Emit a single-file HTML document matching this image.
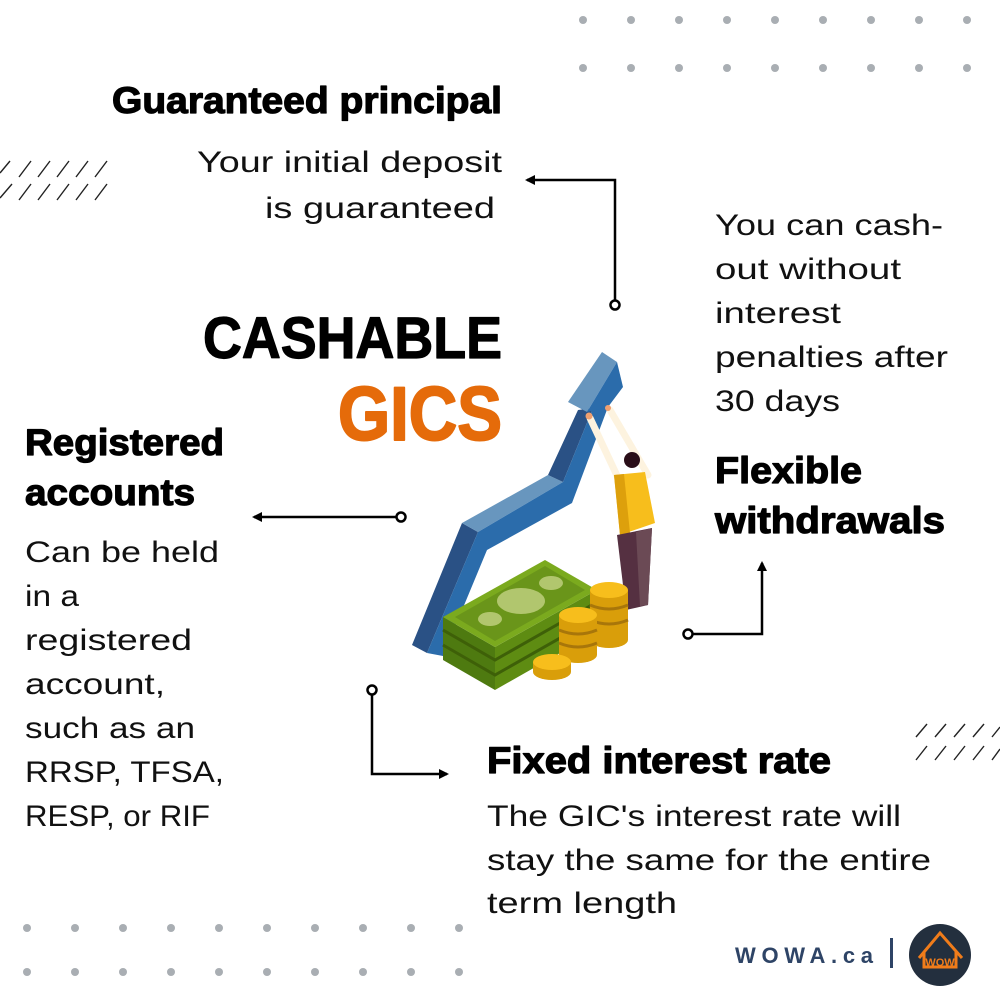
<!DOCTYPE html>
<html><head><meta charset="utf-8"><style>
html,body{margin:0;padding:0;background:#fff}
svg{display:block}
.h{font-family:"Liberation Sans",sans-serif;font-weight:bold;fill:#000;stroke:#000;stroke-width:1.2;stroke-linejoin:round}
.b{font-family:"Liberation Sans",sans-serif;font-size:30px;fill:#111}
</style></head><body>
<svg width="1000" height="1000" viewBox="0 0 1000 1000" xmlns="http://www.w3.org/2000/svg">
<defs>
<marker id="ar" markerWidth="10" markerHeight="10" refX="8" refY="5" orient="auto" markerUnits="userSpaceOnUse"><path d="M0,0 L10,5 L0,10 Z" fill="#000"/></marker>
</defs>
<rect width="1000" height="1000" fill="#fff"/>
<g fill="#A9AEB3">
<circle cx="583" cy="20" r="4"/><circle cx="631" cy="20" r="4"/><circle cx="679" cy="20" r="4"/><circle cx="727" cy="20" r="4"/><circle cx="775" cy="20" r="4"/><circle cx="823" cy="20" r="4"/><circle cx="871" cy="20" r="4"/><circle cx="919" cy="20" r="4"/><circle cx="967" cy="20" r="4"/>
<circle cx="583" cy="68" r="4"/><circle cx="631" cy="68" r="4"/><circle cx="679" cy="68" r="4"/><circle cx="727" cy="68" r="4"/><circle cx="775" cy="68" r="4"/><circle cx="823" cy="68" r="4"/><circle cx="871" cy="68" r="4"/><circle cx="919" cy="68" r="4"/><circle cx="967" cy="68" r="4"/>
<circle cx="27" cy="928" r="4"/><circle cx="75" cy="928" r="4"/><circle cx="123" cy="928" r="4"/><circle cx="171" cy="928" r="4"/><circle cx="219" cy="928" r="4"/><circle cx="267" cy="928" r="4"/><circle cx="315" cy="928" r="4"/><circle cx="363" cy="928" r="4"/><circle cx="411" cy="928" r="4"/><circle cx="459" cy="928" r="4"/>
<circle cx="27" cy="972" r="4"/><circle cx="75" cy="972" r="4"/><circle cx="123" cy="972" r="4"/><circle cx="171" cy="972" r="4"/><circle cx="219" cy="972" r="4"/><circle cx="267" cy="972" r="4"/><circle cx="315" cy="972" r="4"/><circle cx="363" cy="972" r="4"/><circle cx="411" cy="972" r="4"/><circle cx="459" cy="972" r="4"/>
</g>
<g stroke="#222" stroke-width="1.4">
<path d="M0,173 L10,161 M19,177 L31,161 M38,177 L50,161 M57,177 L69,161 M76,177 L88,161 M95,177 L107,161"/>
<path d="M0,198 L12,184 M19,200 L31,184 M38,200 L50,184 M57,200 L69,184 M76,200 L88,184 M95,200 L107,184"/>
<path d="M916,737 L927,724 M935,737 L946,724 M954,737 L965,724 M973,737 L984,724 M992,737 L1000,727"/>
<path d="M916,760 L927,746 M935,760 L946,746 M954,760 L965,746 M973,760 L984,746 M992,760 L1000,749"/>
</g>
<text class="h" x="112" y="113" font-size="37" textLength="390" lengthAdjust="spacingAndGlyphs">Guaranteed principal</text>
<text class="b" x="502" y="172" text-anchor="end" textLength="305" lengthAdjust="spacingAndGlyphs">Your initial deposit</text>
<text class="b" x="495" y="218" text-anchor="end" textLength="230" lengthAdjust="spacingAndGlyphs">is guaranteed</text>
<text class="b" x="715" y="235" textLength="228" lengthAdjust="spacingAndGlyphs">You can cash-</text>
<text class="b" x="715" y="279" textLength="186" lengthAdjust="spacingAndGlyphs">out without</text>
<text class="b" x="715" y="323" textLength="126" lengthAdjust="spacingAndGlyphs">interest</text>
<text class="b" x="715" y="367" textLength="233" lengthAdjust="spacingAndGlyphs">penalties after</text>
<text class="b" x="715" y="411" textLength="125" lengthAdjust="spacingAndGlyphs">30 days</text>
<text class="h" x="715" y="483" font-size="37" textLength="147" lengthAdjust="spacingAndGlyphs">Flexible</text>
<text class="h" x="715" y="533" font-size="37" textLength="230" lengthAdjust="spacingAndGlyphs">withdrawals</text>
<text class="h" x="203" y="358" font-size="58" textLength="299" lengthAdjust="spacingAndGlyphs" stroke-width="2">CASHABLE</text>
<text class="h" x="338" y="440" font-size="76" style="fill:#E56B0A;stroke:#E56B0A;stroke-width:2" textLength="164" lengthAdjust="spacingAndGlyphs">GICS</text>
<text class="h" x="25" y="455" font-size="37" textLength="199" lengthAdjust="spacingAndGlyphs">Registered</text>
<text class="h" x="25" y="505" font-size="37" textLength="170" lengthAdjust="spacingAndGlyphs">accounts</text>
<text class="b" x="25" y="562" textLength="194" lengthAdjust="spacingAndGlyphs">Can be held</text>
<text class="b" x="25" y="606" textLength="54" lengthAdjust="spacingAndGlyphs">in a</text>
<text class="b" x="25" y="650" textLength="167" lengthAdjust="spacingAndGlyphs">registered</text>
<text class="b" x="25" y="694" textLength="140" lengthAdjust="spacingAndGlyphs">account,</text>
<text class="b" x="25" y="738" textLength="170" lengthAdjust="spacingAndGlyphs">such as an</text>
<text class="b" x="25" y="782" textLength="199" lengthAdjust="spacingAndGlyphs">RRSP, TFSA,</text>
<text class="b" x="25" y="826" textLength="185" lengthAdjust="spacingAndGlyphs">RESP, or RIF</text>
<text class="h" x="487" y="773" font-size="37" textLength="344" lengthAdjust="spacingAndGlyphs">Fixed interest rate</text>
<text class="b" x="487" y="826" textLength="414" lengthAdjust="spacingAndGlyphs">The GIC's interest rate will</text>
<text class="b" x="487" y="870" textLength="444" lengthAdjust="spacingAndGlyphs">stay the same for the entire</text>
<text class="b" x="487" y="913" textLength="190" lengthAdjust="spacingAndGlyphs">term length</text>
<g fill="none" stroke="#000" stroke-width="2.5">
<polyline points="615,300 615,180 527,180" marker-end="url(#ar)"/>
<polyline points="396,517 254,517" marker-end="url(#ar)"/>
<polyline points="372,695 372,774 447,774" marker-end="url(#ar)"/>
<polyline points="693,634 762,634 762,563" marker-end="url(#ar)"/>
</g>
<g fill="#fff" stroke="#000" stroke-width="2.5">
<circle cx="615" cy="305" r="4.5"/><circle cx="401" cy="517" r="4.5"/><circle cx="372" cy="690" r="4.5"/><circle cx="688" cy="634" r="4.5"/>
</g>
<polygon points="412,645 462,523 478,532 427,653" fill="#2A5185"/>
<polygon points="462,523 548,475 563,482 478,532" fill="#6896BE"/>
<polygon points="548,475 578,410 593,408 563,482" fill="#2A5185"/>
<polygon points="427,653 478,532 563,482 593,408 608,407 572,503 487,550 443,656" fill="#2B6CAB"/>
<polygon points="568,402 602,352 617,362 587,412" fill="#6896BE"/>
<polygon points="587,412 617,362 623,387 608,407" fill="#2B6CAB"/>
<path d="M620,482 L590,418" stroke="#FDF3DF" stroke-width="7" stroke-linecap="round"/>
<path d="M648,475 L610,410" stroke="#FDF3DF" stroke-width="7" stroke-linecap="round"/>
<circle cx="589" cy="416" r="3.5" fill="#F0A070"/><circle cx="608" cy="408" r="3" fill="#F0A070"/>
<polygon points="614,475 645,472 655,523 620,535" fill="#F7BE1C"/>
<polygon points="614,475 624,474 630,533 620,535" fill="#DDA00C"/>
<circle cx="632" cy="460" r="8" fill="#2A0E18"/>
<polygon points="617,535 652,528 648,605 626,610" fill="#553041"/>
<polygon points="636,532 652,528 648,605 640,606" fill="#6B4A55"/>
<polygon points="443,617 443,660 495,690 495,647" fill="#4E7A10"/>
<polygon points="495,647 495,690 597,632 597,590" fill="#5E8C12"/>
<path d="M443,630 L495,660 L597,602 M443,645 L495,675 L597,617" stroke="#3E6008" stroke-width="3" fill="none"/>
<polygon points="443,617 545,560 597,590 495,647" fill="#7BAA1E"/>
<polygon points="455,617 545,566 585,590 495,641" fill="#6A951A"/>
<ellipse cx="521" cy="601" rx="24" ry="13" fill="#B1C66E"/>
<ellipse cx="551" cy="583" rx="12" ry="7" fill="#B1C66E"/>
<ellipse cx="490" cy="619" rx="12" ry="7" fill="#B1C66E"/>
<rect x="590" y="590" width="38" height="50" fill="#D99E0A"/>
<ellipse cx="609" cy="640" rx="19" ry="8" fill="#D99E0A"/>
<path d="M590,605 Q609,613 628,605 M590,620 Q609,628 628,620" stroke="#A8760A" stroke-width="3" fill="none"/>
<ellipse cx="609" cy="590" rx="19" ry="8" fill="#F7BE1C"/>
<rect x="559" y="615" width="38" height="40" fill="#D99E0A"/>
<ellipse cx="578" cy="655" rx="19" ry="8" fill="#D99E0A"/>
<path d="M559,630 Q578,638 597,630 M559,643 Q578,651 597,643" stroke="#A8760A" stroke-width="3" fill="none"/>
<ellipse cx="578" cy="615" rx="19" ry="8" fill="#F7BE1C"/>
<rect x="533" y="662" width="38" height="10" fill="#D99E0A"/>
<ellipse cx="552" cy="672" rx="19" ry="8" fill="#D99E0A"/>
<ellipse cx="552" cy="662" rx="19" ry="8" fill="#F7BE1C"/>
<text x="735" y="963" font-family="Liberation Sans,sans-serif" font-weight="bold" font-size="22" fill="#2E4466" textLength="138" lengthAdjust="spacing">WOWA.ca</text>
<rect x="890" y="938" width="3" height="30" fill="#2E4466"/>
<circle cx="940" cy="955" r="31" fill="#232F3E"/>
<g fill="none" stroke="#F07C1A" stroke-width="3">
<path d="M919,958 L940,933 L962,958"/>
<path d="M924,952 L924,967 L956,967 L956,952"/>
</g>
<text x="940" y="966" text-anchor="middle" font-family="Liberation Sans,sans-serif" font-weight="bold" font-size="11" fill="#F07C1A">WOW</text>
</svg>
</body></html>
